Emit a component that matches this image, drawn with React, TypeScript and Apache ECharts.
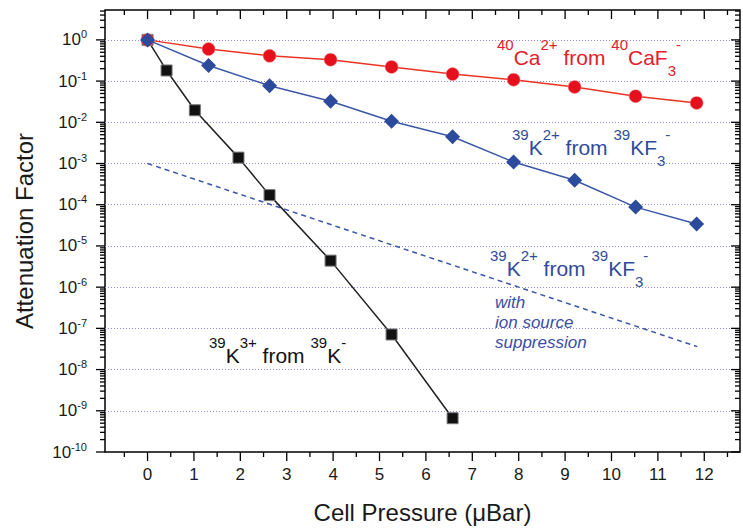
import { useEffect, useRef } from 'react';
import * as echarts from 'echarts';

// ---------- data ----------
const pressure = [0, 1.315, 2.63, 3.945, 5.26, 6.575, 7.89, 9.205, 10.52, 11.835];
const caFromCaF3 = [1, 0.6, 0.41, 0.33, 0.22, 0.148, 0.108, 0.072, 0.043, 0.0296];
const kFromKF3 = [1, 0.239, 0.0774, 0.0324, 0.01064, 0.00447, 0.00109, 0.000393, 0.0000875, 0.000034];
const k3Pressure = [0, 0.41, 1.02, 1.96, 2.63, 3.945, 5.26, 6.575];
const k3FromK = [1, 0.181, 0.0196, 0.00139, 0.000171, 0.0000044, 0.000000071, 0.00000000066];
const suppPressure = [0, 11.85];
const suppValues = [0.001, 0.000000036];

const xMajorTicks = [0, 1, 2, 3, 4, 5, 6, 7, 8, 9, 10, 11, 12];
const xMinorTicks = [-0.5, 0.5, 1.5, 2.5, 3.5, 4.5, 5.5, 6.5, 7.5, 8.5, 9.5, 10.5, 11.5, 12.5];
const yDecades = [-10, -9, -8, -7, -6, -5, -4, -3, -2, -1, 0];
const yMinorFactors = [2, 3, 4, 5, 6, 7, 8, 9];

const X_MIN = -0.917;
const X_MAX = 12.77;
const Y_MIN = -10;
const Y_MAX = 0.725;

const FONT = '"Liberation Sans", Arial, Helvetica, sans-serif';

const toLog = (xs: number[], ys: number[]) => xs.map((x, i) => [x, Math.log10(ys[i])]);

export default function App() {
  const ref = useRef<HTMLDivElement>(null);

  useEffect(() => {
    if (!ref.current) return;
    const chart = echarts.init(ref.current, undefined, { renderer: 'svg' });

    const yMinorTicks: number[] = [];
    yDecades.forEach((d) => {
      yMinorFactors.forEach((k) => {
        const v = d + Math.log10(k);
        if (v < Y_MAX) yMinorTicks.push(v);
      });
    });

    const labelRich = {
      s: { fontSize: 15, lineHeight: 15, verticalAlign: 'top', fontFamily: FONT },
      m: { fontSize: 21, lineHeight: 41, fontFamily: FONT },
      b: { fontSize: 15, lineHeight: 15, verticalAlign: 'bottom', fontFamily: FONT },
      n: { fontSize: 15, lineHeight: 30, verticalAlign: 'top', fontFamily: FONT },
    };

    const option: any = {
      animation: false,
      backgroundColor: '#ffffff',
      textStyle: { fontFamily: FONT },
      grid: {
        left: 105,
        top: 10,
        right: 1,
        bottom: 75,
        show: true,
        borderColor: '#000',
        borderWidth: 1.5,
        backgroundColor: 'transparent',
      },
      xAxis: [
        {
          type: 'value',
          min: X_MIN,
          max: X_MAX,
          minInterval: 1,
          maxInterval: 1,
          position: 'bottom',
          axisLine: { show: false },
          axisTick: { show: false },
          splitLine: { show: false },
          axisLabel: {
            margin: 14,
            fontSize: 17,
            color: '#1a1a1a',
            fontFamily: FONT,
            formatter: (v: number) => (Math.abs(v - Math.round(v)) < 1e-9 ? String(Math.round(v)) : ''),
          },
          name: 'Cell Pressure (\u03bcBar)',
          nameLocation: 'middle',
          nameGap: 48,
          nameTextStyle: { fontSize: 24, color: '#1a1a1a', fontFamily: FONT },
        },
      ],
      yAxis: [
        {
          type: 'value',
          min: Y_MIN,
          max: Y_MAX,
          minInterval: 1,
          maxInterval: 1,
          axisLine: { show: false },
          axisTick: { show: false },
          splitLine: {
            show: true,
            showMinLine: false,
            showMaxLine: false,
            lineStyle: { color: '#8c8cd4', width: 1, type: [1, 2] },
          },
          axisLabel: {
            margin: 18,
            color: '#1a1a1a',
            formatter: (v: number) =>
              Math.abs(v - Math.round(v)) < 1e-9 ? `{b|10}{s|${Math.round(v)}}` : '',
            rich: {
              b: { fontSize: 17, lineHeight: 22, fontFamily: FONT, color: '#1a1a1a' },
              s: { fontSize: 11, lineHeight: 11, verticalAlign: 'top', fontFamily: FONT, color: '#1a1a1a' },
            },
          },
          name: 'Attenuation Factor',
          nameLocation: 'middle',
          nameGap: 69,
          nameTextStyle: { fontSize: 24, color: '#1a1a1a', fontFamily: FONT },
        },
      ],
      series: [
        {
          type: 'custom',
          name: 'ticks',
          silent: true,
          clip: false,
          data: [[0, 0]],
          z: 10,
          renderItem: (params: any, api: any) => {
            const cs = params.coordSys;
            const left = cs.x;
            const top = cs.y;
            const right = cs.x + cs.width;
            const bottom = cs.y + cs.height;
            const children: any[] = [];
            const seg = (x1: number, y1: number, x2: number, y2: number) =>
              children.push({
                type: 'line',
                shape: { x1, y1, x2, y2 },
                style: { stroke: '#000', lineWidth: 1.3 },
              });
            xMajorTicks.forEach((v) => {
              const px = api.coord([v, Y_MIN])[0];
              seg(px, bottom, px, bottom + 9);
              seg(px, top, px, top + 9);
            });
            xMinorTicks.forEach((v) => {
              const px = api.coord([v, Y_MIN])[0];
              seg(px, bottom, px, bottom + 5);
              seg(px, top, px, top + 5);
            });
            yDecades.forEach((v) => {
              const py = api.coord([X_MIN, v])[1];
              seg(left - 9, py, left, py);
              seg(right - 9, py, right, py);
            });
            yMinorTicks.forEach((v) => {
              const py = api.coord([X_MIN, v])[1];
              seg(left - 5, py, left, py);
              seg(right - 5, py, right, py);
            });
            return { type: 'group', children };
          },
        },
        {
          type: 'line',
          name: '39K3+ from 39K-',
          data: toLog(k3Pressure, k3FromK),
          symbol: 'rect',
          symbolSize: 11,
          itemStyle: { color: '#111111', borderColor: '#777777', borderWidth: 1 },
          lineStyle: { color: '#222222', width: 1.5 },
          z: 3,
        },
        {
          type: 'line',
          name: '39K2+ suppression',
          data: toLog(suppPressure, suppValues),
          symbol: 'none',
          lineStyle: { color: '#3a55aa', width: 1.5, type: [5, 4] },
          z: 2,
        },
        {
          type: 'line',
          name: '40Ca2+ from 40CaF3-',
          data: toLog(pressure, caFromCaF3),
          symbol: 'circle',
          symbolSize: 13,
          itemStyle: { color: '#e5101c', borderColor: '#f3a0a0', borderWidth: 0.5 },
          lineStyle: { color: '#ea3424', width: 1.5 },
          z: 4,
        },
        {
          type: 'line',
          name: '39K2+ from 39KF3-',
          data: toLog(pressure, kFromKF3),
          symbol: 'diamond',
          symbolSize: 15,
          itemStyle: { color: '#2c4b9c' },
          lineStyle: { color: '#3a58a8', width: 1.5 },
          z: 5,
        },
      ],
      graphic: [
        {
          type: 'text',
          x: 497,
          y: 37,
          style: {
            text: '{s|40}{m|Ca}{s|2+}{m| from }{s|40}{m|CaF}{b|3}{n|-}',
            fill: '#e3202a',
            verticalAlign: 'top',
            align: 'left',
            rich: labelRich,
          },
        },
        {
          type: 'text',
          x: 512,
          y: 127,
          style: {
            text: '{s|39}{m|K}{s|2+}{m| from }{s|39}{m|KF}{b|3}{n|-}',
            fill: '#2f4c9c',
            verticalAlign: 'top',
            align: 'left',
            rich: labelRich,
          },
        },
        {
          type: 'text',
          x: 490,
          y: 248,
          style: {
            text: '{s|39}{m|K}{s|2+}{m| from }{s|39}{m|KF}{b|3}{n|-}',
            fill: '#2f4c9c',
            verticalAlign: 'top',
            align: 'left',
            rich: labelRich,
          },
        },
        {
          type: 'text',
          x: 495,
          y: 292,
          style: {
            text: 'with\nion source\nsuppression',
            fill: '#3a4ea5',
            font: `italic 17px ${FONT}`,
            lineHeight: 20,
            verticalAlign: 'top',
            align: 'left',
          },
        },
        {
          type: 'text',
          x: 209,
          y: 335,
          style: {
            text: '{s|39}{m|K}{s|3+}{m| from }{s|39}{m|K}{n|-}',
            fill: '#111111',
            verticalAlign: 'top',
            align: 'left',
            rich: labelRich,
          },
        },
      ],
    };

    chart.setOption(option);
    return () => {
      chart.dispose();
    };
  }, []);

  return (
    <div
      ref={ref}
      style={{ position: 'fixed', left: 0, top: 0, width: 743, height: 529, background: '#fff' }}
    />
  );
}
